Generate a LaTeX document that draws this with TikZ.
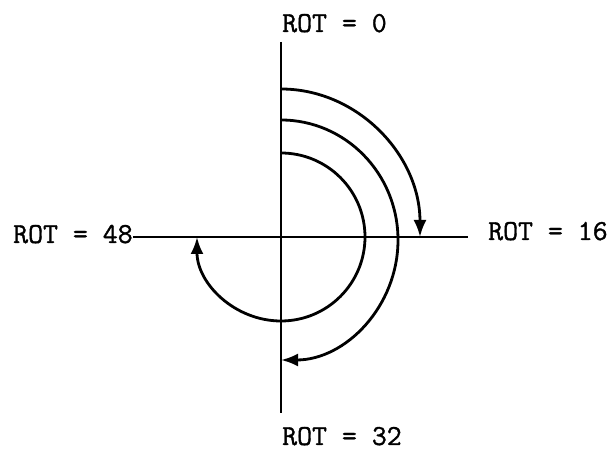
\documentclass[tikz,border=0pt]{standalone}
\usepackage{fontspec}
\newfontfamily\rotfont{Latin Modern Mono}[FakeBold=1.2]
\usetikzlibrary{arrows.meta}
\begin{document}
\begin{tikzpicture}[x=1pt,y=1pt,
  axis/.style={line width=2.2pt},
  rotarc/.style={line width=2.8pt,-{Latex[length=17pt,width=13pt]}},
  lbl/.style={font=\rotfont\fontsize{29}{30}\selectfont,anchor=base west,inner sep=0pt}]
\useasboundingbox (0,0) rectangle (614,452);
\coordinate (C) at (281,215);
\coordinate (vtop) at (281,410);
\coordinate (vbot) at (281,39);
\coordinate (hright) at (468,215);
\node[lbl] (l0) at (282,420) {ROT = 0};
\node[lbl] (l16) at (488,212) {ROT = 16};
\node[lbl] (l48) at (13,209) {ROT = 48};
\node[lbl] (l32) at (282,7) {ROT = 32};
\draw[axis] (vtop) -- (vbot);
\draw[axis] (l48.base east) ++(0,6) coordinate (hleft) -- (hright |- hleft);
% outer arc: 0 -> 16
\draw[rotarc] ([yshift=148pt]C) arc[start angle=90,end angle=0,x radius=139,y radius=148];
% middle arc: 0 -> 32
\draw[rotarc] ([yshift=117pt]C) arc[start angle=90,end angle=-90,x radius=117,y radius=120];
% inner arc: 0 -> 48
\draw[rotarc] ([yshift=84pt]C) arc[start angle=90,end angle=-180,radius=84];
\end{tikzpicture}
\end{document}
